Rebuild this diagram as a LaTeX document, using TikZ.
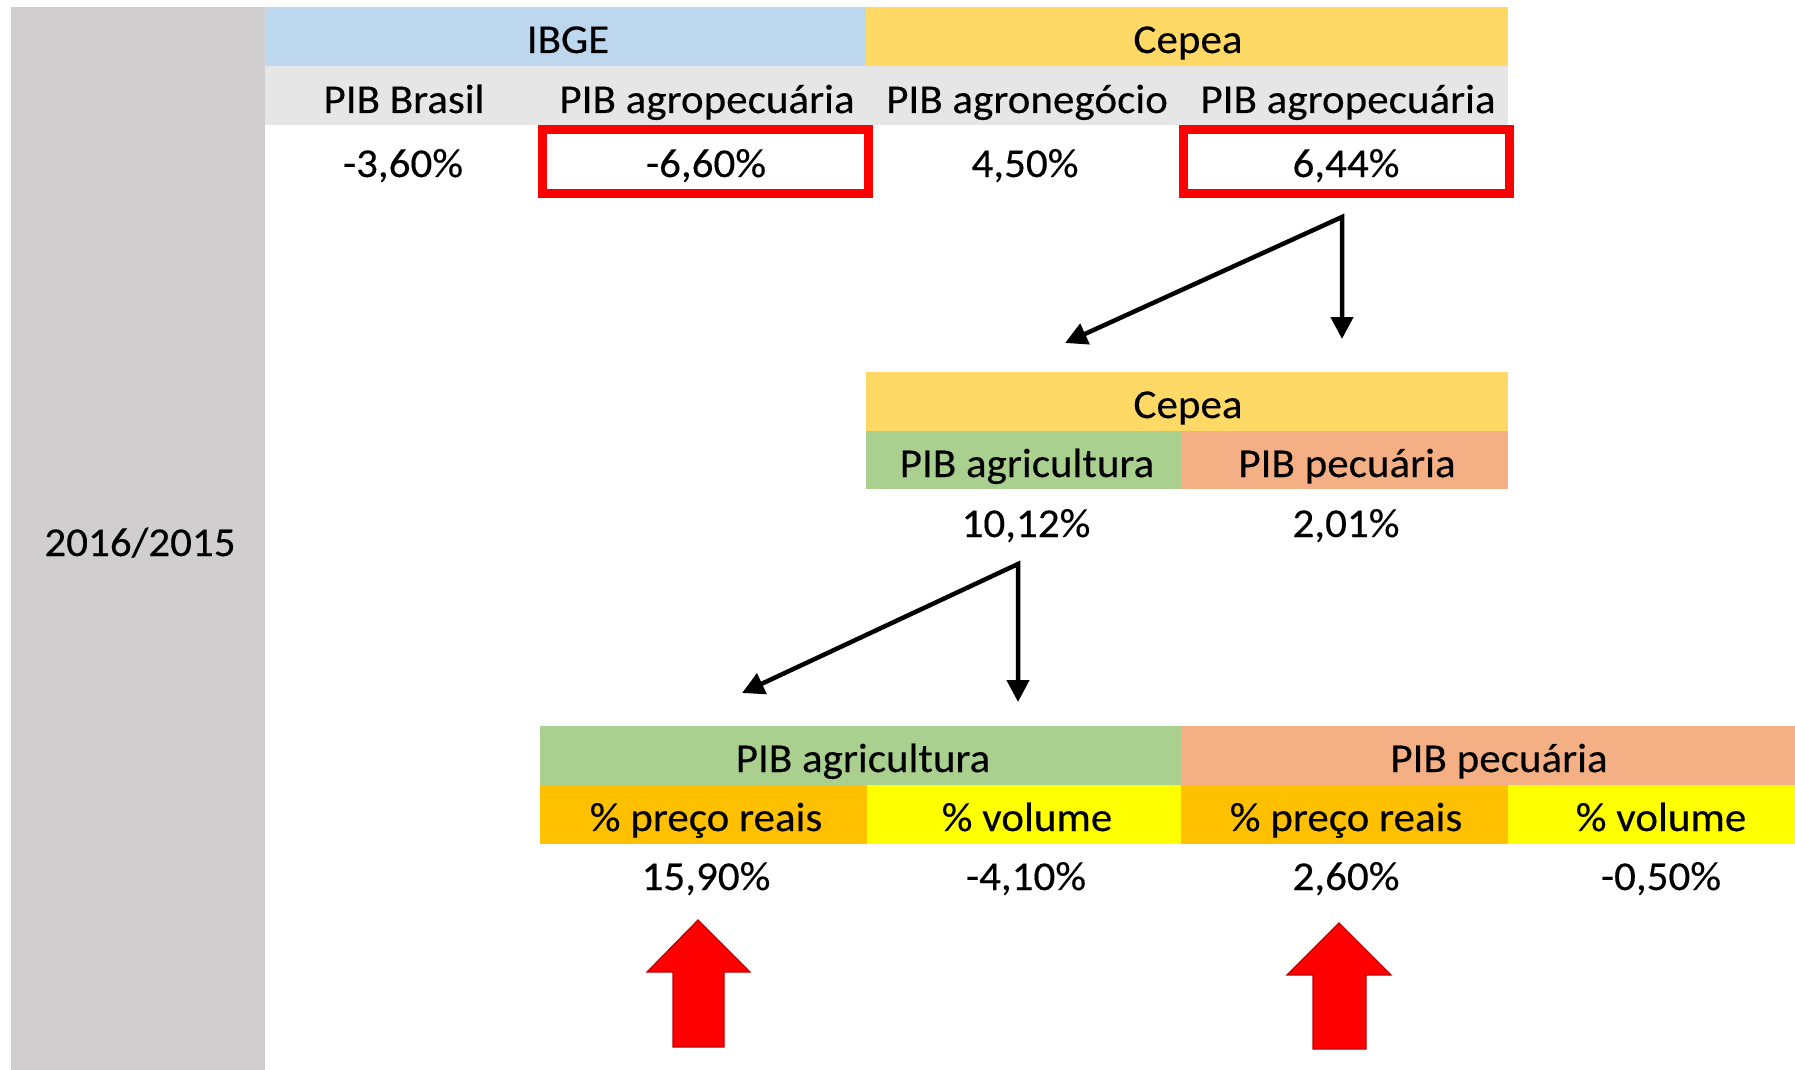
\documentclass[tikz,border=0pt]{standalone}
\usepackage{fontspec}
\setmainfont{Carlito}[FakeStretch=1.05,FakeBold=0.3]
\usetikzlibrary{arrows.meta}
\definecolor{colgray}{HTML}{D0CECE}
\definecolor{rowgray}{HTML}{E7E6E6}
\definecolor{ibgeblue}{HTML}{BDD7EE}
\definecolor{cepeayel}{HTML}{FFD966}
\definecolor{agrgreen}{HTML}{A9D08E}
\definecolor{pecsalmon}{HTML}{F4B084}
\definecolor{preorange}{HTML}{FFC000}
\definecolor{volyellow}{HTML}{FFFF00}
\definecolor{hired}{HTML}{FF0000}
\definecolor{darkred}{HTML}{C00000}
\begin{document}
\begin{tikzpicture}[x=1pt,y=-1pt,
  txt/.style={anchor=base, inner sep=0pt, font=\fontsize{41}{49}\selectfont},
  redbox/.style={draw=hired, line width=9pt},
  blk/.style={line width=4.5pt, {Triangle[width=22pt,length=22pt]}-{Triangle[width=22pt,length=22pt]}},
  bigarrow/.style={fill=hired, draw=darkred, line width=1.2pt, line join=miter}]
\useasboundingbox (0,0) rectangle (1795,1070);
\fill[white] (0,0) rectangle (1795,1070);
% cell backgrounds
\fill[colgray] (11,7) rectangle (265,1070);
\fill[ibgeblue] (265,7) rectangle (866,66);
\fill[cepeayel] (866,7) rectangle (1508,66);
\fill[rowgray] (265,66) rectangle (1508,125);
\fill[cepeayel] (866,372) rectangle (1508,431);
\fill[agrgreen] (866,431) rectangle (1181,489);
\fill[pecsalmon] (1181,431) rectangle (1508,489);
\fill[agrgreen] (540,726) rectangle (1181,785);
\fill[pecsalmon] (1181,726) rectangle (1795,785);
\fill[preorange] (540,785) rectangle (867,844);
\fill[volyellow] (867,785) rectangle (1181,844);
\fill[preorange] (1181,785) rectangle (1508,844);
\fill[volyellow] (1508,785) rectangle (1795,844);
% red boxes
\draw[redbox] (542.5,129.5) rectangle (868.5,193.5);
\draw[redbox] (1183.5,129.5) rectangle (1509.5,193.5);
% texts
\node[txt] (year) at (140,556) {2016/2015};
\node[txt] (ibge) at (568,53) {IBGE};
\node[txt] (cepea1) at (1188,53) {Cepea};
\node[txt] (pibbr) at (404,113) {PIB Brasil};
\node[txt] (pibagro1) at (707,113) {PIB agropecuária};
\node[txt] (pibneg) at (1027,113) {PIB agronegócio};
\node[txt] (pibagro2) at (1348,113) {PIB agropecuária};
\node[txt] (v1) at (403,177) {-3,60\%};
\node[txt] (v2) at (706,177) {-6,60\%};
\node[txt] (v3) at (1025,177) {4,50\%};
\node[txt] (v4) at (1346,177) {6,44\%};
\node[txt] (cepea2) at (1188,418) {Cepea};
\node[txt] (agric1) at (1027,477) {PIB agricultura};
\node[txt] (pec1) at (1347,477) {PIB pecuária};
\node[txt] (v5) at (1026,537) {10,12\%};
\node[txt] (v6) at (1346,537) {2,01\%};
\node[txt] (agric2) at (863,772) {PIB agricultura};
\node[txt] (pec2) at (1499,772) {PIB pecuária};
\node[txt] (pr1) at (706,831) {\% preço reais};
\node[txt] (vol1) at (1027,831) {\% volume};
\node[txt] (pr2) at (1346,831) {\% preço reais};
\node[txt] (vol2) at (1661,831) {\% volume};
\node[txt] (v7) at (706,890) {15,90\%};
\node[txt] (v8) at (1026,890) {-4,10\%};
\node[txt] (v9) at (1346,890) {2,60\%};
\node[txt] (v10) at (1661,890) {-0,50\%};
% black arrows
\coordinate (s1) at (1342,217);
\coordinate (t1a) at (1342,339);
\coordinate (t1b) at (1065,343);
\draw[blk] (t1b) -- (s1) -- (t1a);
\coordinate (s2) at (1018,564);
\coordinate (t2a) at (1018,702);
\coordinate (t2b) at (742,693);
\draw[blk] (t2b) -- (s2) -- (t2a);
% red block arrows
\draw[bigarrow] (698,920) -- (750,972) -- (724,972) -- (724,1047) -- (673,1047) -- (673,972) -- (647,972) -- cycle;
\draw[bigarrow] (1339,923) -- (1391,975) -- (1366,975) -- (1366,1049) -- (1313,1049) -- (1313,975) -- (1287,975) -- cycle;
\end{tikzpicture}
\end{document}
